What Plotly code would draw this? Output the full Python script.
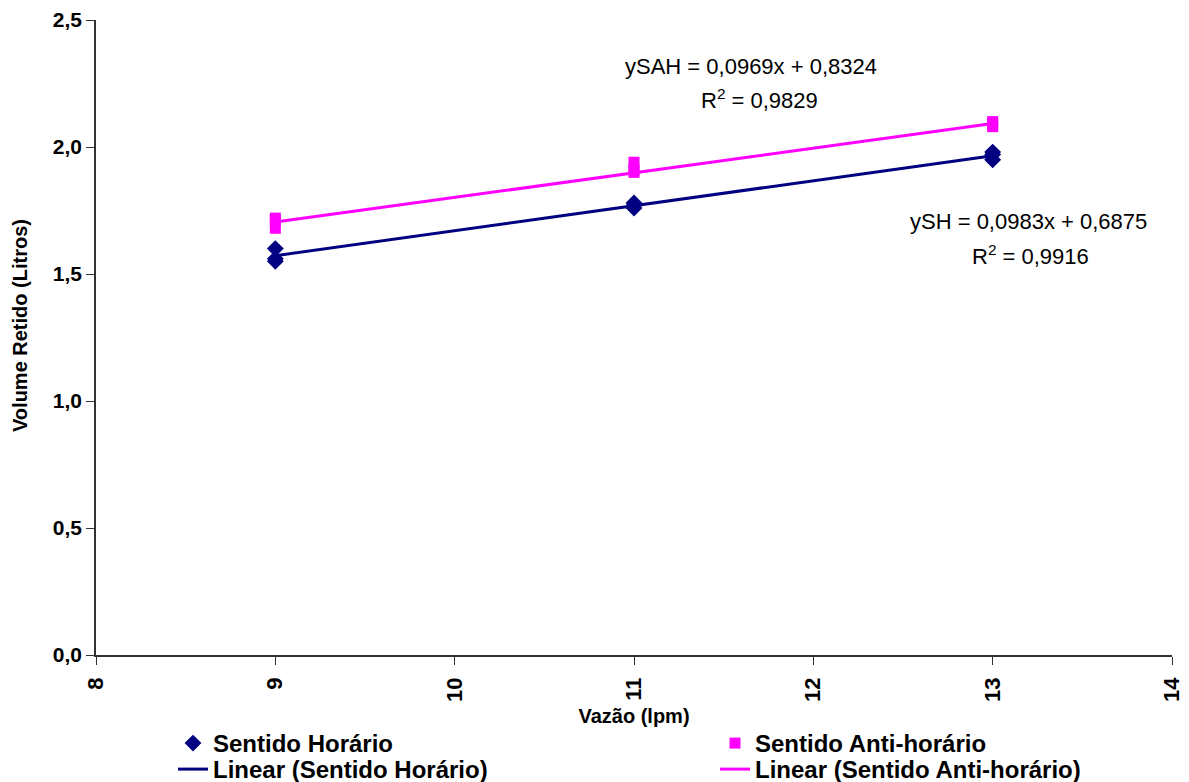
import plotly.graph_objects as go

# Data
x_sh = [9, 9, 9, 11, 11, 11, 13, 13, 13]
y_sh = [1.60, 1.56, 1.55, 1.78, 1.77, 1.76, 1.98, 1.95, 1.97]
x_sah = [9, 9, 9, 11, 11, 11, 13, 13, 13]
y_sah = [1.72, 1.68, 1.71, 1.94, 1.91, 1.90, 2.10, 2.08, 2.09]

# trendline coefficients (from chart labels)
sh_slope, sh_int = 0.0983, 0.6875
sah_slope, sah_int = 0.0969, 0.8324
fit_x = [9, 13]

x_ticks = [8, 9, 10, 11, 12, 13, 14]
y_ticks = [0.0, 0.5, 1.0, 1.5, 2.0, 2.5]

navy = "#000080"
magenta = "#FF00FF"
font_family = "Liberation Sans, Arial, sans-serif"

fig = go.Figure()
fig.add_trace(go.Scatter(x=x_sh, y=y_sh, mode="markers", name="<b>Sentido Horário</b>",
                         marker=dict(symbol="diamond", size=13, color=navy), legend="legend"))
fig.add_trace(go.Scatter(x=x_sah, y=y_sah, mode="markers", name="<b>Sentido Anti-horário</b>",
                         marker=dict(symbol="square", size=11, color=magenta), legend="legend2"))
fig.add_trace(go.Scatter(x=fit_x, y=[sh_slope * v + sh_int for v in fit_x], mode="lines",
                         name="<b>Linear (Sentido Horário)</b>", line=dict(color=navy, width=3),
                         legend="legend3"))
fig.add_trace(go.Scatter(x=fit_x, y=[sah_slope * v + sah_int for v in fit_x], mode="lines",
                         name="<b>Linear (Sentido Anti-horário)</b>", line=dict(color=magenta, width=3),
                         legend="legend4"))

ann_font = dict(family=font_family, size=22, color="black")
fig.add_annotation(x=11.65, y=2.315, xref="x", yref="y", showarrow=False,
                   text="ySAH = 0,0969x + 0,8324", font=ann_font)
fig.add_annotation(x=11.7, y=2.19, xref="x", yref="y", showarrow=False,
                   text="R<sup>2</sup> = 0,9829", font=ann_font)
fig.add_annotation(x=13.2, y=1.705, xref="x", yref="y", showarrow=False,
                   text="ySH = 0,0983x + 0,6875", font=ann_font)
fig.add_annotation(x=13.21, y=1.575, xref="x", yref="y", showarrow=False,
                   text="R<sup>2</sup> = 0,9916", font=ann_font)
# y-axis title
fig.add_annotation(x=(20 - 96) / 1076, y=(655 - 326) / 635, xref="paper", yref="paper",
                   showarrow=False, textangle=-90, xanchor="center", yanchor="middle",
                   text="<b>Volume Retido (Litros)</b>",
                   font=dict(size=20, family=font_family, color="black"))

leg_common = dict(orientation="v", xanchor="left", yanchor="top",
                  xref="container", yref="container",
                  font=dict(size=24, family=font_family, color="black"),
                  tracegroupgap=0, bgcolor="rgba(0,0,0,0)", borderwidth=0)

row1_top = 1 - 721 / 782
row2_top = 1 - 747 / 782
col1 = 173 / 1189
col2 = 715 / 1189

fig.update_layout(
    width=1189, height=782,
    margin=dict(l=96, r=17, t=20, b=127, autoexpand=False),
    paper_bgcolor="white", plot_bgcolor="white",
    font=dict(family=font_family, color="black"),
    showlegend=True,
    legend=dict(x=col1, y=row1_top, **leg_common),
    legend2=dict(x=col2, y=row1_top, **leg_common),
    legend3=dict(x=col1, y=row2_top, **leg_common),
    legend4=dict(x=col2, y=row2_top, **leg_common),
    xaxis=dict(range=[8, 14], tickvals=x_ticks, tickangle=-90,
               ticktext=[f"<b>{v}</b>" for v in x_ticks],
               tickfont=dict(size=22, family=font_family), ticklabelstandoff=4,
               showgrid=False, zeroline=False, showline=True, linecolor="#333", linewidth=1.5,
               ticks="outside", ticklen=8, tickcolor="#333",
               title=dict(text="<b>Vazão (lpm)</b>", font=dict(size=20, family=font_family), standoff=8)),
    yaxis=dict(range=[0, 2.5], tickvals=y_ticks,
               ticktext=[f"<b>{v:.1f}</b>".replace(".", ",") for v in y_ticks],
               tickfont=dict(size=21, family=font_family),
               showgrid=False, zeroline=False, showline=True, linecolor="#333", linewidth=1.5,
               ticks="outside", ticklen=8, tickcolor="#333"),
)

fig.write_html("out.html")
